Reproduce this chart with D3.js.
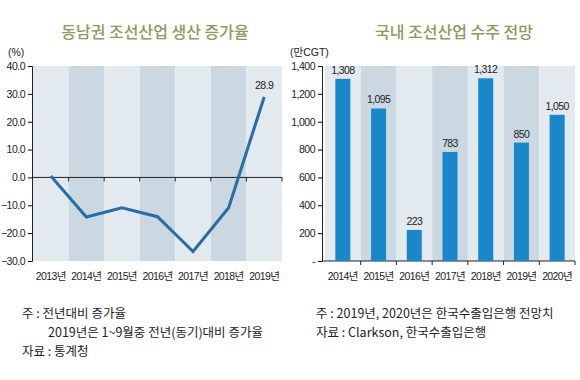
<!DOCTYPE html>
<html>
<head>
<meta charset="utf-8">
<script src="https://cdn.jsdelivr.net/npm/d3@7"></script>
<style>
  body { margin: 0; background: #fff; }
  svg text { font-family: 'Liberation Sans', 'Noto Sans CJK KR', sans-serif; }
  .kr { font-family: 'Noto Sans CJK KR', sans-serif; }
</style>
</head>
<body>
<svg id="chart" width="580" height="380"></svg>
<script>
// left: 동남권 조선산업 생산 증가율 (%)
var growthYears = ['2013년', '2014년', '2015년', '2016년', '2017년', '2018년', '2019년']
var growthValues = [0.5, -14.2, -10.9, -14.1, -26.6, -10.9, 28.9]
var growthTicks = [40, 30, 20, 10, 0, -10, -20, -30]

// right: 국내 조선산업 수주 전망 (만CGT)
var orderYears = ['2014년', '2015년', '2016년', '2017년', '2018년', '2019년', '2020년']
var orderValues = [1308, 1095, 223, 783, 1312, 850, 1050]
var orderTicks = [0, 200, 400, 600, 800, 1000, 1200, 1400]

var lightBand = '#e3eaef'
var darkBand = '#cbd8e1'
var svg = d3.select('#chart')

draw1()
draw2()
notes()

function draw1() {
    var g = svg.append('g')
    var xScale = d3.scaleBand().domain(growthYears).range([33, 282])
    var yScale = d3.scaleLinear().domain([-30, 40]).range([261, 66])

    g.append('text').attr('class', 'kr')
        .attr('x', 155).attr('y', 38)
        .attr('text-anchor', 'middle')
        .attr('font-size', 16).attr('font-weight', 500)
        .attr('fill', '#8c9a5c')
        .text('동남권 조선산업 생산 증가율')

    g.selectAll('rect.band').data(growthYears).enter().append('rect')
        .attr('class', 'band')
        .attr('x', d => xScale(d))
        .attr('y', yScale(40))
        .attr('width', xScale.bandwidth())
        .attr('height', yScale(-30) - yScale(40))
        .attr('fill', (d, i) => i % 2 ? darkBand : lightBand)

    var yAxis = g.append('g')
        .attr('transform', 'translate(32,0)')
        .call(d3.axisLeft(yScale).tickValues(growthTicks).tickFormat(d3.format('.1f')).tickSize(4))
    yAxis.select('.domain').attr('stroke', '#222')
    yAxis.selectAll('text').attr('font-size', 10.5).attr('fill', '#222').attr('letter-spacing', -0.5)

    // zero line with ticks at band edges
    var bounds = growthYears.map(d => xScale(d)).slice(1).concat([282])
    var zero = g.append('g')
    zero.append('line').attr('x1', 32).attr('x2', 282)
        .attr('y1', yScale(0)).attr('y2', yScale(0))
        .attr('stroke', '#222').attr('stroke-width', 1)
    zero.selectAll('line.tk').data(bounds).enter().append('line')
        .attr('class', 'tk')
        .attr('x1', d => d).attr('x2', d => d)
        .attr('y1', yScale(0)).attr('y2', yScale(0) + 4)
        .attr('stroke', '#222')

    g.selectAll('text.xl').data(growthYears).enter().append('text')
        .attr('class', 'xl')
        .attr('x', d => xScale(d) + xScale.bandwidth() / 2)
        .attr('y', 280)
        .attr('text-anchor', 'middle')
        .attr('font-size', 10.5).attr('letter-spacing', -0.6)
        .attr('fill', '#222')
        .text(d => d)

    var lineFunc = d3.line()
        .x((d, i) => xScale(growthYears[i]) + xScale.bandwidth() / 2)
        .y(d => yScale(d))

    g.append('path')
        .attr('d', lineFunc(growthValues))
        .attr('stroke', '#276fa2')
        .attr('stroke-width', 3)
        .attr('fill', 'none')

    var last = growthValues.length - 1
    g.append('text')
        .attr('x', xScale(growthYears[last]) + xScale.bandwidth() / 2)
        .attr('y', yScale(growthValues[last]) - 8)
        .attr('text-anchor', 'middle')
        .attr('font-size', 10.5).attr('letter-spacing', -0.5)
        .attr('fill', '#222')
        .text(growthValues[last].toFixed(1))

    g.append('text')
        .attr('x', 8).attr('y', 56)
        .attr('font-size', 10.5).attr('fill', '#222')
        .text('(%)')
}

function draw2() {
    var g = svg.append('g')
    var xScale = d3.scaleBand().domain(orderYears).range([325, 575])
    var yScale = d3.scaleLinear().domain([0, 1400]).range([261, 66])

    g.append('text').attr('class', 'kr')
        .attr('x', 454).attr('y', 38)
        .attr('text-anchor', 'middle')
        .attr('font-size', 16).attr('font-weight', 500)
        .attr('fill', '#8c9a5c')
        .text('국내 조선산업 수주 전망')

    g.selectAll('rect.band').data(orderYears).enter().append('rect')
        .attr('class', 'band')
        .attr('x', d => xScale(d))
        .attr('y', yScale(1400))
        .attr('width', xScale.bandwidth())
        .attr('height', yScale(0) - yScale(1400))
        .attr('fill', (d, i) => i % 2 ? darkBand : lightBand)

    var yAxis = g.append('g')
        .attr('transform', 'translate(322,0)')
        .call(d3.axisLeft(yScale).tickValues(orderTicks)
            .tickFormat(d => d === 0 ? '-' : d3.format(',')(d)).tickSize(4))
    yAxis.select('.domain').attr('stroke', '#222')
    yAxis.selectAll('text').attr('font-size', 10.5).attr('fill', '#222').attr('letter-spacing', -0.5)

    var bounds = orderYears.map(d => xScale(d)).slice(1).concat([575])
    var base = g.append('g')
    base.append('line').attr('x1', 322).attr('x2', 575)
        .attr('y1', yScale(0)).attr('y2', yScale(0))
        .attr('stroke', '#222')
    base.selectAll('line.tk').data(bounds).enter().append('line')
        .attr('class', 'tk')
        .attr('x1', d => d).attr('x2', d => d)
        .attr('y1', yScale(0)).attr('y2', yScale(0) + 4)
        .attr('stroke', '#222')

    var barW = 15
    g.selectAll('rect.bar').data(orderValues).enter().append('rect')
        .attr('class', 'bar')
        .attr('x', (d, i) => xScale(orderYears[i]) + xScale.bandwidth() / 2 - barW / 2)
        .attr('y', d => yScale(d))
        .attr('width', barW)
        .attr('height', d => yScale(0) - yScale(d))
        .attr('fill', '#1a87cb')

    g.selectAll('text.val').data(orderValues).enter().append('text')
        .attr('class', 'val')
        .attr('x', (d, i) => xScale(orderYears[i]) + xScale.bandwidth() / 2)
        .attr('y', d => yScale(d) - 5)
        .attr('text-anchor', 'middle')
        .attr('font-size', 10.5).attr('letter-spacing', -0.6)
        .attr('fill', '#222')
        .text(d => d3.format(',')(d))

    g.selectAll('text.xl').data(orderYears).enter().append('text')
        .attr('class', 'xl')
        .attr('x', d => xScale(d) + xScale.bandwidth() / 2)
        .attr('y', 280)
        .attr('text-anchor', 'middle')
        .attr('font-size', 10.5).attr('letter-spacing', -0.6)
        .attr('fill', '#222')
        .text(d => d)

    g.append('text')
        .attr('x', 290).attr('y', 56)
        .attr('font-size', 10.5).attr('fill', '#222')
        .text('(만CGT)')
}

function notes() {
    var left = [
        {x: 22, y: 318, t: '주 : 전년대비 증가율'},
        {x: 48, y: 337, t: '2019년은 1~9월중 전년(동기)대비 증가율'},
        {x: 22, y: 356, t: '자료 : 통계청'}
    ]
    var right = [
        {x: 316, y: 318, t: '주 : 2019년, 2020년은 한국수출입은행 전망치'},
        {x: 316, y: 337, t: '자료 : Clarkson, 한국수출입은행'}
    ]
    svg.selectAll('text.note').data(left.concat(right)).enter().append('text')
        .attr('class', 'note kr')
        .attr('x', d => d.x).attr('y', d => d.y)
        .attr('font-size', 12.5)
        .attr('fill', '#222')
        .text(d => d.t)
}
</script>
</body>
</html>
